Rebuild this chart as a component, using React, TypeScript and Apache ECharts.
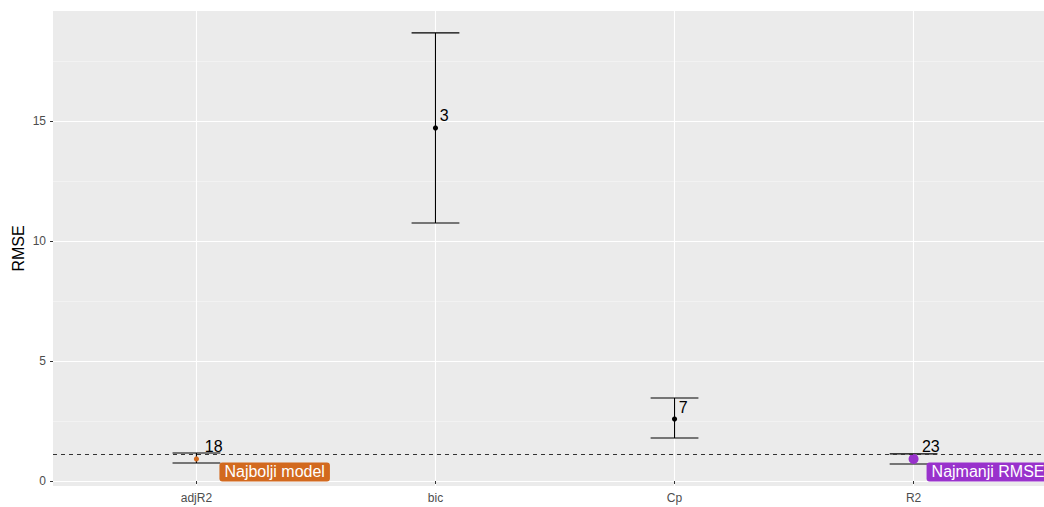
import React, { useEffect, useRef } from "react";
import * as echarts from "echarts";

const categories = ["adjR2", "bic", "Cp", "R2"];
const rmseMean = [0.92, 14.71, 2.58, 0.92];
const rmseLower = [0.75, 10.75, 1.79, 0.71];
const rmseUpper = [1.17, 18.67, 3.46, 1.13];
const modelSize = [18, 3, 7, 23];
const thresholdRMSE = 1.13;
const yTicks = [0, 5, 10, 15];
const yMinorTicks = [2.5, 7.5, 12.5, 17.5];
const annotationIndex = [0, 3];
const annotationText = ["Najbolji model", "Najmanji RMSE"];

const ORANGE = "#D2691E";
const PURPLE = "#9932CC";
const pointStyle: Record<number, { color: string; r: number }> = {
  0: { color: ORANGE, r: 2.6 },
  3: { color: PURPLE, r: 5 },
};
const annotationOffset: Record<number, [number, number]> = {
  0: [23, 3.5],
  3: [13, 3.5],
};
const annotationColor: Record<number, string> = { 0: ORANGE, 3: PURPLE };

const FONT = "'Liberation Sans', Arial, sans-serif";

export default function App() {
  const ref = useRef<HTMLDivElement>(null);
  useEffect(() => {
    document.body.style.margin = "0";
    if (!ref.current) return;
    const chart = echarts.init(ref.current, null, { renderer: "svg" });
    const data = categories.map((c, i) => [
      i + 1,
      rmseMean[i],
      rmseLower[i],
      rmseUpper[i],
      modelSize[i],
    ]);
    const option: any = {
      animation: false,
      textStyle: { fontFamily: FONT },
      grid: {
        left: 53,
        top: 11,
        width: 1004,
        height: 475,
        show: true,
        backgroundColor: "#EBEBEB",
        borderWidth: 0,
        containLabel: false,
        outerBoundsMode: "none",
      },
      xAxis: {
        type: "value",
        min: 0.4,
        max: 4.6,
        axisLine: { show: false },
        axisTick: {
          show: true,
          length: 3,
          customValues: [1, 2, 3, 4],
          lineStyle: { color: "#333333", width: 1 },
        },
        axisLabel: {
          customValues: [1, 2, 3, 4],
          formatter: (v: number) => categories[Math.round(v) - 1] ?? "",
          color: "#4D4D4D",
          fontSize: 12,
          margin: 6,
          fontFamily: FONT,
        },
        splitLine: { show: true, lineStyle: { color: "#FFFFFF", width: 1.1 } },
      },
      yAxis: [
        {
          type: "value",
          min: -0.208,
          max: 19.583,
          name: "RMSE",
          nameLocation: "middle",
          nameGap: 27,
          nameMoveOverlap: false,
          nameTextStyle: { color: "#000000", fontSize: 16, fontFamily: FONT },
          axisLine: { show: false },
          axisTick: {
            show: true,
            length: 3,
            customValues: yTicks,
            lineStyle: { color: "#333333", width: 1 },
          },
          axisLabel: {
            customValues: yTicks,
            color: "#4D4D4D",
            fontSize: 12,
            margin: 7,
            fontFamily: FONT,
          },
          splitLine: { show: true, lineStyle: { color: "#FFFFFF", width: 1.1 } },
        },
        {
          type: "value",
          min: -0.208,
          max: 19.583,
          position: "left",
          axisLine: { show: false },
          axisTick: { show: false, customValues: yMinorTicks },
          axisLabel: { show: false, customValues: yMinorTicks },
          splitLine: { show: true, lineStyle: { color: "#F7F7F7", width: 0.6 } },
        },
      ],
      series: [
        {
          type: "custom",
          clip: false,
          yAxisIndex: 0,
          data,
          renderItem: (params: any, api: any) => {
            const i = params.dataIndex;
            const x = api.value(0);
            const m = api.value(1);
            const lo = api.value(2);
            const hi = api.value(3);
            const n = api.value(4);
            const top = api.coord([x, hi]);
            const bot = api.coord([x, lo]);
            const capL = api.coord([x - 0.1, hi]);
            const capR = api.coord([x + 0.1, hi]);
            const p = api.coord([x, m]);
            const ps = pointStyle[i] ?? { color: "#000000", r: 2.6 };
            const lineStyle = { stroke: "#000000", lineWidth: 1.1 };
            const label = String(n);
            const w = label.length * 0.556 * 15;
            const children: any[] = [
              { type: "line", shape: { x1: top[0], y1: top[1], x2: bot[0], y2: bot[1] }, style: lineStyle },
              { type: "line", shape: { x1: capL[0], y1: top[1], x2: capR[0], y2: top[1] }, style: lineStyle },
              { type: "line", shape: { x1: capL[0], y1: bot[1], x2: capR[0], y2: bot[1] }, style: lineStyle },
              { type: "circle", shape: { cx: p[0], cy: p[1], r: ps.r }, style: { fill: ps.color } },
              {
                type: "text",
                x: p[0] + w / 2,
                y: p[1] - 4,
                style: {
                  text: label,
                  fill: "#000000",
                  font: `16px ${FONT}`,
                  align: "left",
                  verticalAlign: "bottom",
                },
              },
            ];
            const ai = annotationIndex.indexOf(i);
            if (ai >= 0) {
              const off = annotationOffset[i];
              children.push({
                type: "text",
                x: p[0] + off[0],
                y: p[1] + off[1],
                style: {
                  text: annotationText[ai],
                  fill: "#FFFFFF",
                  font: `16px ${FONT}`,
                  align: "left",
                  verticalAlign: "top",
                  backgroundColor: annotationColor[i],
                  padding: [1, 5, 1, 5],
                  lineHeight: 17,
                  borderRadius: 3,
                },
              });
            }
            return { type: "group", children };
          },
          markLine: {
            silent: true,
            symbol: ["none", "none"],
            label: { show: false },
            lineStyle: { color: "#333333", width: 1.1, type: [4, 4] },
            data: [{ yAxis: thresholdRMSE }],
          },
        },
      ],
    };
    chart.setOption(option);
    return () => chart.dispose();
  }, []);
  return <div ref={ref} style={{ width: 1044, height: 507 }} />;
}
